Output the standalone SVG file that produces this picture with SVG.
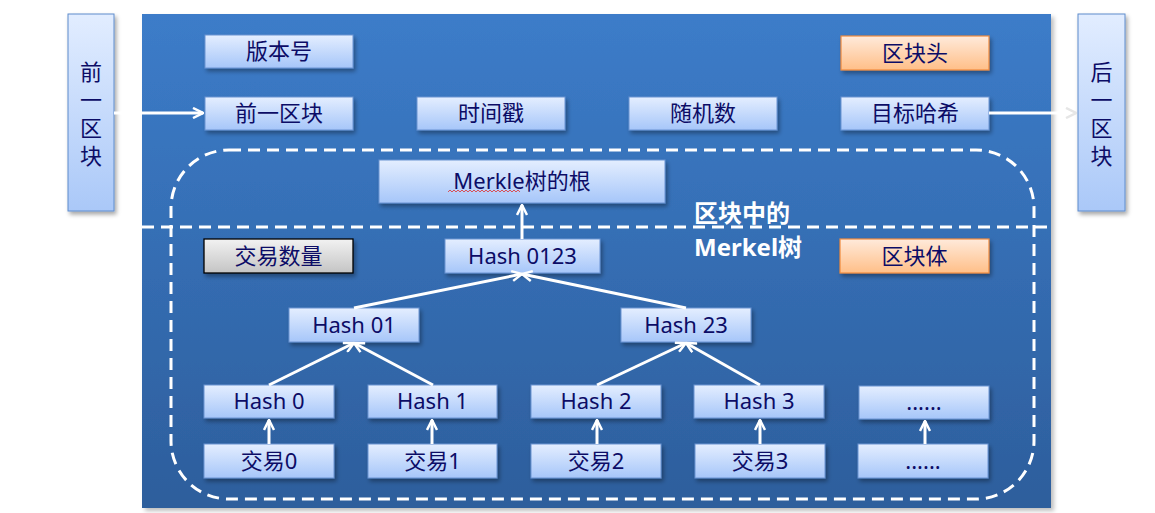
<svg xmlns="http://www.w3.org/2000/svg" width="1155" height="513" viewBox="0 0 1155 513">
<defs>
<linearGradient id="gBlue" x1="0" y1="0" x2="0" y2="1"><stop offset="0" stop-color="#e4eeff"/><stop offset="1" stop-color="#a6c6f9"/></linearGradient>
<linearGradient id="gOrange" x1="0" y1="0" x2="0" y2="1"><stop offset="0" stop-color="#ffeadb"/><stop offset="1" stop-color="#ffbf88"/></linearGradient>
<linearGradient id="gGray" x1="0" y1="0" x2="0" y2="1"><stop offset="0" stop-color="#f2f2f2"/><stop offset="1" stop-color="#c4c4c4"/></linearGradient>
<linearGradient id="gBg" x1="0" y1="0" x2="0" y2="1"><stop offset="0" stop-color="#3c7cc9"/><stop offset="1" stop-color="#2d5e9c"/></linearGradient>
<linearGradient id="gSide" x1="0" y1="0" x2="0" y2="1"><stop offset="0" stop-color="#e2edff"/><stop offset="1" stop-color="#aac8f8"/></linearGradient>
<filter id="sh" x="-10%" y="-10%" width="130%" height="150%"><feDropShadow dx="2" dy="3" stdDeviation="2" flood-color="#000" flood-opacity="0.35"/></filter>
<filter id="shBg" x="-5%" y="-5%" width="110%" height="110%"><feDropShadow dx="3" dy="3" stdDeviation="2" flood-color="#000" flood-opacity="0.25"/></filter>
<marker id="ah" viewBox="0 0 12 12" refX="11" refY="6" markerWidth="12" markerHeight="12" markerUnits="userSpaceOnUse" orient="auto"><path d="M1,1 L11,6 L1,11" fill="none" stroke="#fff" stroke-width="2.5" stroke-linejoin="miter"/></marker>
<marker id="ahg" viewBox="0 0 12 12" refX="11" refY="6" markerWidth="12" markerHeight="12" markerUnits="userSpaceOnUse" orient="auto"><path d="M1,1 L11,6 L1,11" fill="none" stroke="#e6e6e6" stroke-width="2.5"/></marker>
</defs>
<style>
.t{font-family:"Noto Sans","Noto Sans CJK SC",sans-serif;font-size:22px;fill:#0c0c66;text-anchor:middle}
.bb{fill:url(#gBlue);stroke:#6b93d2;stroke-width:1;filter:url(#sh)}
.ob{fill:url(#gOrange);stroke:#f08a3c;stroke-width:1.2;filter:url(#sh)}
.gb{fill:url(#gGray);stroke:#000;stroke-width:1.3;filter:url(#sh)}
.sb{fill:url(#gSide);stroke:#5f8ccc;stroke-width:1;filter:url(#sh)}
.dash{fill:none;stroke:#fff;stroke-width:3;stroke-dasharray:12 7}
.c{stroke:#fff;stroke-width:3;fill:none}
.w{font-family:"Noto Sans","Noto Sans CJK SC",sans-serif;font-size:24px;font-weight:bold;fill:#fff}
</style>
<rect x="142" y="14" width="909" height="494" fill="url(#gBg)" filter="url(#shBg)"/>
<line x1="142" y1="227" x2="1051" y2="227" class="dash"/>
<rect x="171" y="150" width="863" height="349" rx="58" ry="58" class="dash"/>
<g id="prev"><rect x="68" y="14" width="46" height="197" class="sb"/>
<text class="t" x="91" y="80">前</text><text class="t" x="91" y="108">一</text><text class="t" x="91" y="136">区</text><text class="t" x="91" y="164">块</text></g>
<g id="next"><rect x="1078" y="14" width="47" height="197" class="sb"/>
<text class="t" x="1101.5" y="80">后</text><text class="t" x="1101.5" y="108">一</text><text class="t" x="1101.5" y="136">区</text><text class="t" x="1101.5" y="164">块</text></g>
<g id="version"><rect x="205" y="35" width="148" height="33" class="bb"/><text class="t" x="279" y="59">版本号</text></g>
<g id="header"><rect x="841" y="36" width="148" height="34" class="ob"/><text class="t" x="915" y="61">区块头</text></g>
<g id="prevhash"><rect x="205" y="97" width="148" height="33" class="bb"/><text class="t" x="279" y="121">前一区块</text></g>
<g id="time"><rect x="417" y="97" width="148" height="33" class="bb"/><text class="t" x="491" y="121">时间戳</text></g>
<g id="nonce"><rect x="629" y="97" width="148" height="33" class="bb"/><text class="t" x="703" y="121">随机数</text></g>
<g id="target"><rect x="841" y="97" width="148" height="33" class="bb"/><text class="t" x="915" y="121">目标哈希</text></g>
<g id="root"><rect x="379" y="160" width="286" height="43" class="bb"/><text class="t" x="522" y="189">Merkle树的根</text>
<path d="M448,192 l2,-2 l2,2 l2,-2 l2,2 l2,-2 l2,2 l2,-2 l2,2 l2,-2 l2,2 l2,-2 l2,2 l2,-2 l2,2 l2,-2 l2,2 l2,-2 l2,2 l2,-2 l2,2 l2,-2 l2,2 l2,-2 l2,2 l2,-2 l2,2 l2,-2 l2,2 l2,-2 l2,2 l2,-2 l2,2 l2,-2 l2,2 l2,-2 l2,2" fill="none" stroke="#e03030" stroke-width="0.8"/></g>
<g id="count"><rect x="204" y="239" width="149" height="34" class="gb"/><text class="t" x="278.5" y="264">交易数量</text></g>
<g id="h0123"><rect x="445" y="239" width="155" height="34" class="bb"/><text class="t" x="522.5" y="264">Hash 0123</text></g>
<g id="body"><rect x="840" y="239" width="149" height="34" class="ob"/><text class="t" x="914.5" y="264">区块体</text></g>
<g id="label"><text class="w" x="694" y="222">区块中的</text><text class="w" x="694" y="256">Merkel树</text></g>
<g id="h01"><rect x="289" y="308" width="130" height="34" class="bb"/><text class="t" x="354" y="333">Hash 01</text></g>
<g id="h23"><rect x="621" y="308" width="130" height="34" class="bb"/><text class="t" x="686" y="333">Hash 23</text></g>
<g id="h0"><rect x="204" y="385" width="130" height="33" class="bb"/><text class="t" x="269" y="409">Hash 0</text></g>
<g id="h1"><rect x="368" y="385" width="129" height="33" class="bb"/><text class="t" x="432.5" y="409">Hash 1</text></g>
<g id="h2"><rect x="531" y="385" width="130" height="33" class="bb"/><text class="t" x="596" y="409">Hash 2</text></g>
<g id="h3"><rect x="694" y="385" width="130" height="33" class="bb"/><text class="t" x="759" y="409">Hash 3</text></g>
<g id="hx"><rect x="859" y="386" width="130" height="33" class="bb"/><text class="t" x="924" y="410">......</text></g>
<g id="tx0"><rect x="204" y="444" width="130" height="34" class="bb"/><text class="t" x="269" y="469">交易0</text></g>
<g id="tx1"><rect x="368" y="444" width="129" height="34" class="bb"/><text class="t" x="432.5" y="469">交易1</text></g>
<g id="tx2"><rect x="531" y="444" width="130" height="34" class="bb"/><text class="t" x="596" y="469">交易2</text></g>
<g id="tx3"><rect x="695" y="444" width="130" height="34" class="bb"/><text class="t" x="760" y="469">交易3</text></g>
<g id="txx"><rect x="858" y="444" width="130" height="34" class="bb"/><text class="t" x="923" y="469">......</text></g>
<g id="connectors">
<line x1="114" y1="113" x2="203" y2="113" class="c" marker-end="url(#ah)"/>
<line x1="989" y1="113" x2="1076" y2="113" class="c" marker-end="url(#ahg)"/>
<line x1="522" y1="239" x2="522" y2="205" class="c" marker-end="url(#ah)"/>
<line x1="354" y1="308" x2="522" y2="274" class="c" marker-end="url(#ah)"/>
<line x1="686" y1="308" x2="522" y2="274" class="c" marker-end="url(#ah)"/>
<line x1="269" y1="385" x2="354" y2="343" class="c" marker-end="url(#ah)"/>
<line x1="433" y1="385" x2="354" y2="343" class="c" marker-end="url(#ah)"/>
<line x1="597" y1="385" x2="686" y2="343" class="c" marker-end="url(#ah)"/>
<line x1="760" y1="385" x2="686" y2="343" class="c" marker-end="url(#ah)"/>
<line x1="269" y1="444" x2="269" y2="420" class="c" marker-end="url(#ah)"/>
<line x1="432" y1="444" x2="432" y2="420" class="c" marker-end="url(#ah)"/>
<line x1="597" y1="444" x2="597" y2="420" class="c" marker-end="url(#ah)"/>
<line x1="760" y1="444" x2="760" y2="420" class="c" marker-end="url(#ah)"/>
<line x1="925" y1="444" x2="925" y2="421" class="c" marker-end="url(#ah)"/>
</g>
</svg>
